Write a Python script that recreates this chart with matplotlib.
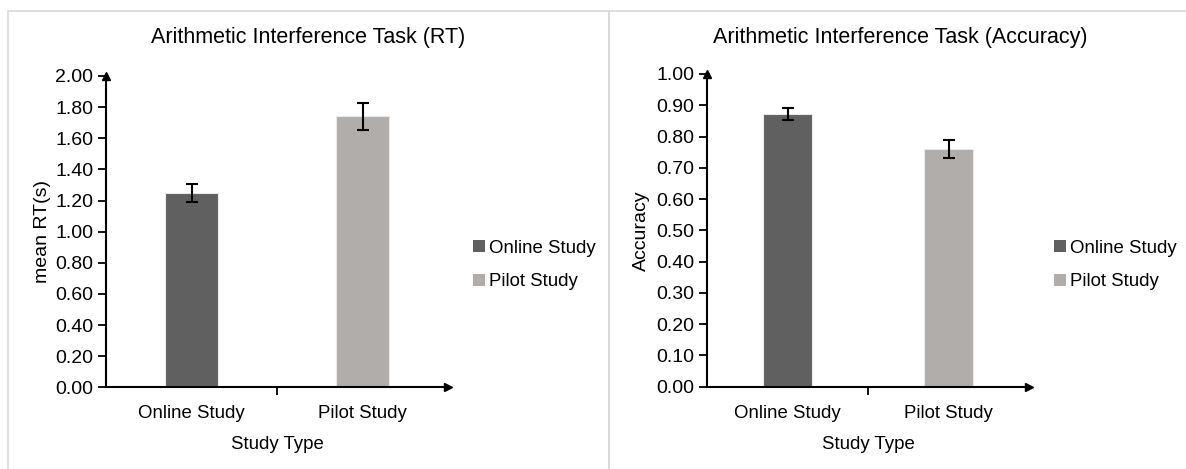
import matplotlib
matplotlib.use("Agg")
import matplotlib.pyplot as plt
from matplotlib.patches import Rectangle, Patch
from matplotlib.ticker import FixedLocator

plt.rcParams['font.family'] = ['Liberation Sans', 'DejaVu Sans']

categories = ["Online Study", "Pilot Study"]
rt_means = [1.25, 1.74]
rt_err = [0.057, 0.087]
acc_means = [0.872, 0.760]
acc_err = [0.018, 0.029]
rt_ticks = [0.0, 0.2, 0.4, 0.6, 0.8, 1.0, 1.2, 1.4, 1.6, 1.8, 2.0]
acc_ticks = [0.0, 0.1, 0.2, 0.3, 0.4, 0.5, 0.6, 0.7, 0.8, 0.9, 1.0]
colors = ["#606060", "#b0adab"]

W, H = 1186, 469
FS = 14.0
FS2 = 13.4
fig = plt.figure(figsize=(W / 100, H / 100), dpi=100)

# panel borders
for x0, x1 in [(8, 609), (609, 1200)]:
    fig.patches.append(Rectangle((x0 / W, -0.1), (x1 - x0) / W, 1.1 - 11 / H,
                                 transform=fig.transFigure, fill=False,
                                 edgecolor="#d9d9d9", linewidth=1.2))


def make_panel(rect, means, errs, ticks, ylabel, title, title_x, legend_x, ylabel_x):
    ax = fig.add_axes(rect)
    x = list(range(len(categories)))
    ax.bar(x, means, width=0.31, color=colors, edgecolor="#e8e8e8", linewidth=0.8,
           yerr=errs, error_kw=dict(ecolor="black", elinewidth=1.5, capsize=4, capthick=1.5),
           zorder=2)
    ax.set_xlim(-0.5, 1.5)
    ax.set_ylim(ticks[0], ticks[-1])
    ax.set_yticks(ticks)
    ax.set_yticklabels([f"{t:.2f}" for t in ticks])
    ax.set_xticks(x)
    ax.set_xticklabels(categories)
    ax.xaxis.set_minor_locator(FixedLocator([0.5]))
    ax.tick_params(axis='x', which='major', length=0, pad=13, labelsize=FS2)
    ax.tick_params(axis='x', which='minor', length=6, width=1.3, direction='out')
    ax.tick_params(axis='y', length=6, width=1.3, direction='out', pad=3, labelsize=FS)
    for s in ['top', 'right']:
        ax.spines[s].set_visible(False)
    for s in ['left', 'bottom']:
        ax.spines[s].set_linewidth(1.5)
    ax.plot(1, 0, ">k", transform=ax.transAxes, clip_on=False, markersize=6)
    ax.plot(0, 1, "^k", transform=ax.transAxes, clip_on=False, markersize=6)
    ax.set_xlabel("Study Type", fontsize=FS2, labelpad=10)
    ax.set_ylabel(ylabel, fontsize=FS)
    ax.yaxis.set_label_coords(ylabel_x / W, rect[1] + rect[3] / 2, transform=fig.transFigure)
    fig.text(title_x / W, 1 - 37 / H, title, ha='center', va='center', fontsize=15.5)
    handles = [Patch(facecolor=c, edgecolor='none') for c in colors]
    fig.legend(handles, categories, loc='center left',
               bbox_to_anchor=(legend_x / W, 1 - 265 / H), frameon=False,
               fontsize=FS2, handlelength=0.6, handleheight=0.6, handletextpad=0.25,
               labelspacing=0.9, borderaxespad=0)
    return ax


ax1 = make_panel([106 / W, 1 - 387.3 / H, (448 - 106) / W, (387.3 - 76) / H],
                 rt_means, rt_err, rt_ticks, "mean RT(s)", "Arithmetic Interference Task (RT)",
                 308, 466, 51)

ax2 = make_panel([707 / W, 1 - 386.7 / H, (1029 - 707) / W, (386.7 - 74) / H],
                 acc_means, acc_err, acc_ticks, "Accuracy", "Arithmetic Interference Task (Accuracy)",
                 900, 1047, 650)

fig.savefig("out.png", dpi=100)
